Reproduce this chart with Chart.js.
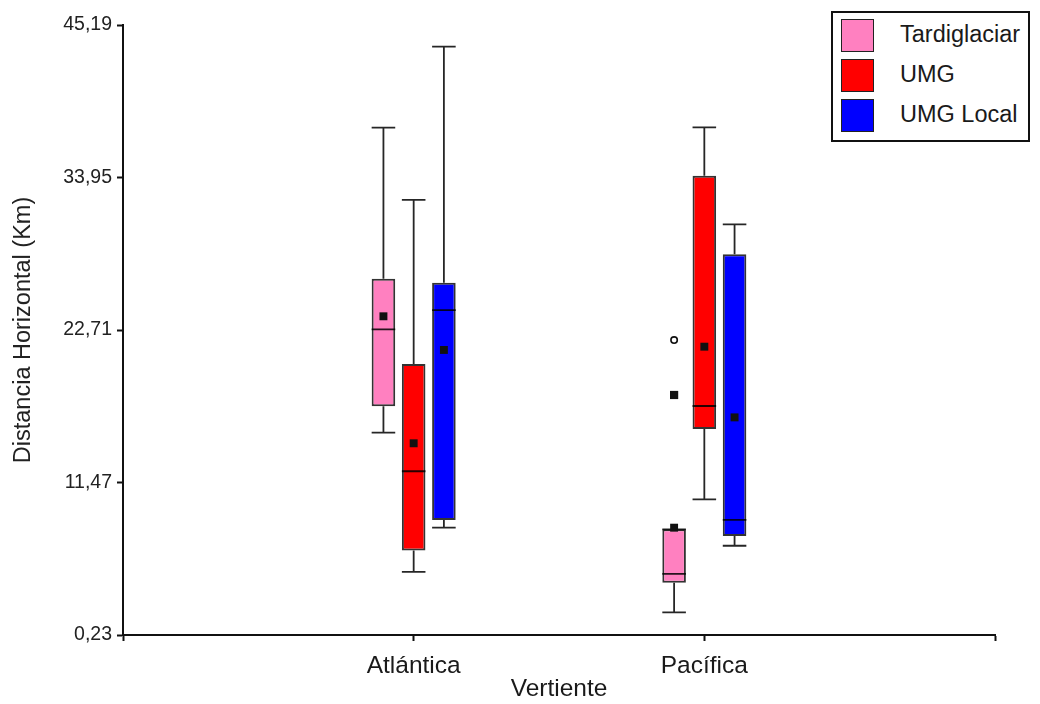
<!DOCTYPE html>
<html lang="es">
<head>
    <meta charset="UTF-8">
    <title>Distancia Horizontal por Vertiente</title>
    <script src="https://cdn.jsdelivr.net/npm/chart.js"></script>
    <style>
        body {
            margin: 0;
            background: #fff;
            font-family: 'Liberation Sans', Arial, sans-serif;
        }
        .wrap {
            position: relative;
            width: 1040px;
            height: 704px;
        }
        #legend {
            position: absolute;
            left: 831px;
            top: 11px;
            width: 199px;
            height: 131px;
            border: 2px solid #111;
            box-sizing: border-box;
            background: #fff;
            color: #1a1a1a;
            font-size: 23.5px;
        }
        .row {
            position: absolute;
            left: 0;
            height: 40px;
            width: 100%;
        }
        .swatch {
            position: absolute;
            left: 8px;
            top: 4px;
            width: 33px;
            height: 33px;
            border: 1.5px solid #222;
            box-sizing: border-box;
        }
        .row span {
            position: absolute;
            left: 67px;
            top: 6px;
            line-height: 27px;
        }
    </style>
</head>
<body>
<div class="wrap">
    <canvas id="chart" width="1040" height="704"></canvas>
    <div id="legend"></div>
</div>
<script>
    const categories = ['Atlántica', 'Pacífica'];
    const seriesNames = ['Tardiglaciar', 'UMG', 'UMG Local'];
    const yTicks = [0.23, 11.47, 22.71, 33.95, 45.19];

    // per category: [lower whisker, Q1, median, Q3, upper whisker]
    const tardiglaciarBox = [[15.15, 17.09, 22.76, 26.48, 37.63], [1.90, 4.08, 4.73, 8.02, 8.02]];
    const umgBox = [[4.88, 6.46, 12.30, 20.20, 32.30], [10.23, 15.41, 17.11, 34.08, 37.65]];
    const umgLocalBox = [[8.15, 8.71, 24.18, 26.20, 43.60], [6.81, 7.53, 8.71, 28.29, 30.50]];

    const tardiglaciarMean = [23.72, 8.14];
    const umgMean = [14.36, 21.48];
    const umgLocalMean = [21.24, 16.27];

    // outliers (only Tardiglaciar, Pacífica)
    const tardiglaciarOutlier = [null, 21.97];
    const tardiglaciarExtreme = [null, 17.92];

    const colors = ['#ff80c0', '#ff0000', '#0000ff'];
    const boxes = [tardiglaciarBox, umgBox, umgLocalBox];
    const means = [tardiglaciarMean, umgMean, umgLocalMean];

    const groupStep = 0.104;   // gap between box centres inside a group
    const boxFrac = 0.78;
    const half = groupStep * boxFrac / 2;
    const xPos = (c, s) => c + 1 + (s - 1) * groupStep;

    const datasets = [];
    boxes.forEach((b, s) => {
        datasets.push({
            type: 'bar',
            label: seriesNames[s],
            data: b.map((v, c) => ({ x: xPos(c, s), y: [v[1], v[3]] })),
            backgroundColor: colors[s],
            borderColor: 'rgba(0,0,0,0.8)',
            borderWidth: 2,
            borderSkipped: false,
            grouped: false,
            barPercentage: boxFrac,
            categoryPercentage: 1,
            order: 3
        });

        // whiskers, caps and median drawn as line segments split by gaps
        const seg = [];
        b.forEach((v, c) => {
            const x = xPos(c, s);
            seg.push(
                { x: x - half, y: v[4] }, { x: x + half, y: v[4] }, { x: x, y: null },
                { x: x, y: v[4] }, { x: x, y: v[3] }, { x: x, y: null },
                { x: x, y: v[1] }, { x: x, y: v[0] }, { x: x, y: null },
                { x: x - half, y: v[0] }, { x: x + half, y: v[0] }, { x: x, y: null },
                { x: x - half, y: v[2] }, { x: x + half, y: v[2] }, { x: x, y: null }
            );
        });
        datasets.push({
            type: 'line',
            data: seg,
            borderColor: 'rgba(0,0,0,0.85)',
            borderWidth: 1.8,
            pointRadius: 0,
            spanGaps: false,
            fill: false,
            order: 2
        });

        datasets.push({
            type: 'scatter',
            data: means[s].map((m, c) => ({ x: xPos(c, s), y: m })),
            pointStyle: 'rect',
            pointRadius: 5.6,
            backgroundColor: '#111',
            borderWidth: 0,
            order: 1
        });
    });

    datasets.push({
        type: 'scatter',
        data: tardiglaciarOutlier.map((v, c) => ({ x: xPos(c, 0), y: v })),
        pointStyle: 'circle',
        pointRadius: 3.2,
        backgroundColor: '#fff',
        borderColor: '#111',
        borderWidth: 1.6,
        order: 0
    });
    datasets.push({
        type: 'scatter',
        data: tardiglaciarExtreme.map((v, c) => ({ x: xPos(c, 0), y: v })),
        pointStyle: 'rect',
        pointRadius: 5.8,
        backgroundColor: '#111',
        borderWidth: 0,
        order: 0
    });

    const axisFont = { family: "'Liberation Sans', Arial, sans-serif" };

    new Chart(document.getElementById('chart'), {
        type: 'bar',
        data: { datasets: datasets },
        options: {
            responsive: false,
            animation: false,
            layout: { padding: { left: 4, top: 25, right: 45, bottom: 0 } },
            plugins: {
                legend: { display: false },
                tooltip: { enabled: false }
            },
            scales: {
                x: {
                    type: 'linear',
                    min: 0,
                    max: 3,
                    offset: false,
                    afterBuildTicks: (scale) => {
                        scale.ticks = [0, 1, 2, 3].map(v => ({ value: v }));
                    },
                    afterFit: (scale) => { scale.height = 69; },
                    ticks: {
                        autoSkip: false,
                        maxRotation: 0,
                        padding: 11,
                        color: '#1a1a1a',
                        font: { ...axisFont, size: 24.5 },
                        callback: (v) => categories[Math.round(v) - 1] || ''
                    },
                    grid: {
                        offset: false,
                        drawOnChartArea: false,
                        tickLength: 6,
                        tickWidth: 2,
                        color: '#111'
                    },
                    border: { color: '#111', width: 2 },
                    title: {
                        display: true,
                        text: 'Vertiente',
                        color: '#1a1a1a',
                        padding: { top: 0, bottom: 0 },
                        font: { ...axisFont, size: 24.5 }
                    }
                },
                y: {
                    min: 0.23,
                    max: 45.19,
                    afterBuildTicks: (scale) => {
                        scale.ticks = yTicks.map(v => ({ value: v }));
                    },
                    afterFit: (scale) => { scale.width = 119; },
                    ticks: {
                        padding: 5,
                        color: '#222',
                        font: { ...axisFont, size: 19.5 },
                        callback: (v) => v.toFixed(2).replace('.', ',')
                    },
                    grid: {
                        drawOnChartArea: false,
                        tickLength: 6,
                        tickWidth: 2,
                        color: '#111'
                    },
                    border: { color: '#111', width: 2 },
                    title: {
                        display: true,
                        text: 'Distancia Horizontal (Km)',
                        color: '#222',
                        padding: { top: 5, bottom: 0 },
                        font: { ...axisFont, size: 23.5 }
                    }
                }
            }
        }
    });

    // legend box
    const legend = document.getElementById('legend');
    seriesNames.forEach((name, i) => {
        const row = document.createElement('div');
        row.className = 'row';
        row.style.top = (40 * i + 2) + 'px';
        row.innerHTML = '<div class="swatch" style="background:' + colors[i] + '"></div><span>' + name + '</span>';
        legend.appendChild(row);
    });
</script>
</body>
</html>
